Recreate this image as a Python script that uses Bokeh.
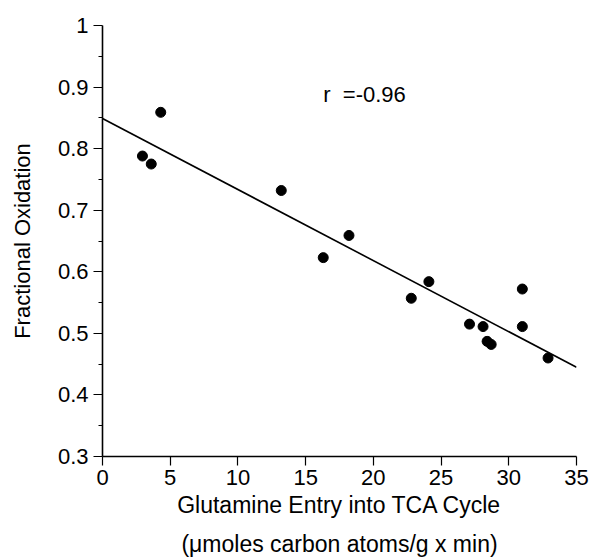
from bokeh.plotting import figure
from bokeh.models import FixedTicker, CustomJSTickFormatter, Label, Range1d, LinearAxis
from bokeh.embed import file_html
from bokeh.resources import INLINE

# Data
glutamine_entry = [2.95, 3.6, 4.3, 13.2, 16.3, 18.2, 22.8, 24.1, 27.1, 28.1, 28.4, 28.7, 31.0, 31.0, 32.9]
fractional_ox = [0.788, 0.775, 0.859, 0.732, 0.623, 0.659, 0.557, 0.584, 0.515, 0.511, 0.487, 0.482, 0.572, 0.511, 0.460]
fit_x = [0, 35]
fit_y = [0.849, 0.445]
x_ticks = [0, 5, 10, 15, 20, 25, 30, 35]
y_ticks = [0.3, 0.4, 0.5, 0.6, 0.7, 0.8, 0.9, 1.0]
y_minor = [0.35, 0.45, 0.55, 0.65, 0.75, 0.85, 0.95]
r_text = "r \u00a0=-0.96"
x_label = "Glutamine Entry into TCA Cycle"
x_label2 = "(\u03bcmoles carbon atoms/g x min)"
y_label = "Fractional Oxidation"

FONT = "Liberation Sans"

p = figure(width=591, height=559, output_backend="svg", toolbar_location=None,
           x_range=Range1d(0, 35), y_range=Range1d(0.3, 1.0),
           min_border_left=102, min_border_right=15, min_border_top=25, min_border_bottom=101)
p.outline_line_color = None
p.xgrid.visible = False
p.ygrid.visible = False
p.background_fill_color = "white"
p.border_fill_color = "white"

p.line(fit_x, fit_y, line_color="black", line_width=1.6)
p.scatter(glutamine_entry, fractional_ox, size=10, fill_color="black", line_color="black")

def style(ax):
    ax.axis_line_color = "black"
    ax.axis_line_width = 1.6
    ax.major_tick_line_color = "black"
    ax.major_tick_line_width = 1.2
    ax.major_tick_out = 9
    ax.major_tick_in = 0
    ax.minor_tick_line_color = "black"
    ax.minor_tick_line_width = 1.0
    ax.minor_tick_out = 4
    ax.minor_tick_in = 0
    ax.major_label_text_font = FONT
    ax.major_label_text_font_size = "22px"
    ax.major_label_text_color = "black"
    ax.axis_label_text_font = FONT
    ax.axis_label_text_font_size = "22px"
    ax.axis_label_text_font_style = "normal"
    ax.axis_label_text_color = "black"

style(p.xaxis[0])
style(p.yaxis[0])

p.xaxis.ticker = FixedTicker(ticks=x_ticks)
p.xaxis.minor_tick_line_color = None
p.xaxis.major_label_standoff = 4
p.xaxis.axis_label = x_label
p.xaxis.axis_label_text_font_size = "23px"
p.xaxis.axis_label_standoff = 4

p.yaxis.ticker = FixedTicker(ticks=y_ticks, minor_ticks=y_minor)
p.yaxis.formatter = CustomJSTickFormatter(code="return tick.toFixed(1).replace(/\\.0$/, '');")
p.yaxis.major_label_standoff = 5
p.yaxis.axis_label = y_label
p.yaxis.axis_label_standoff = 20

# second line of the x-axis title, as an extra tickless axis below
ax2 = LinearAxis(ticker=FixedTicker(ticks=[]), axis_label=x_label2)
ax2.axis_line_color = None
ax2.major_tick_line_color = None
ax2.minor_tick_line_color = None
ax2.major_tick_out = 0
ax2.minor_tick_out = 0
ax2.major_label_text_font_size = "0px"
ax2.major_label_standoff = 0
ax2.axis_label_text_font = FONT
ax2.axis_label_text_font_size = "23px"
ax2.axis_label_text_font_style = "normal"
ax2.axis_label_text_color = "black"
ax2.axis_label_standoff = 10
p.add_layout(ax2, "below")

p.add_layout(Label(x=16.3, y=0.888, text=r_text, text_font=FONT, text_font_size="22px",
                   text_baseline="middle", text_align="left", text_color="black"))

open("out.html", "w").write(file_html(p, INLINE))
